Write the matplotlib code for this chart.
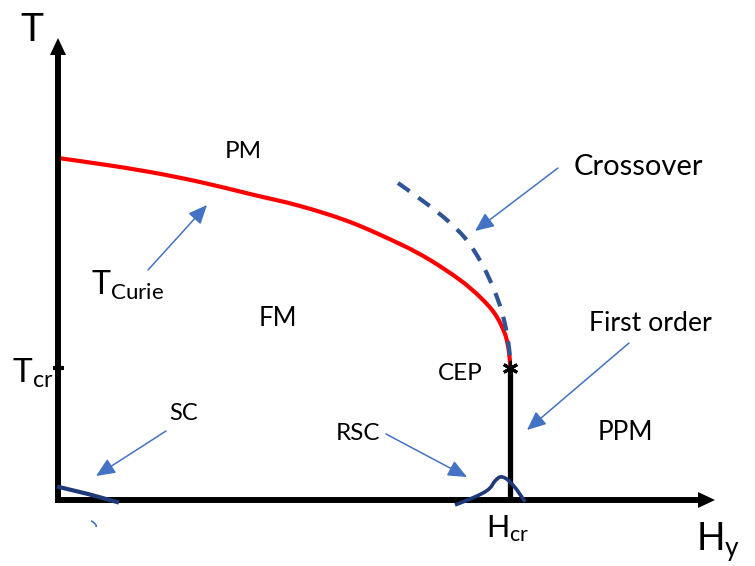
import matplotlib
matplotlib.use("Agg")
import matplotlib.pyplot as plt
import numpy as np
from matplotlib.patches import FancyArrowPatch, PathPatch
from matplotlib.path import Path

plt.rcParams['font.family'] = ['Lato', 'DejaVu Sans']
plt.rcParams['mathtext.default'] = 'regular'

# ---- data (H in arbitrary units from origin, T in arbitrary units) ----
curie_h = [0, 42, 92, 142, 192, 242, 292, 342, 372, 402, 422, 437, 447, 451, 452]
curie_t = [342, 336, 328, 318, 306, 294, 278, 256, 240, 220, 203, 186, 166, 148, 135]

cross_h = [340, 369, 390, 407, 420, 431, 440, 446, 450, 452]
cross_t = [317, 296, 279, 262, 243, 222, 200, 180, 160, 142]

h_cr = 452
t_cr = 132

sc_h = [1, 30, 59]
sc_t = [13, 6, -2]

rsc_h = [397, 412, 425, 432, 437, 442, 447, 452, 459, 467]
rsc_t = [-5, 1, 7, 12, 19, 23, 22, 18, 10, -2]

blip_h = [33, 35, 38, 38]
blip_t = [-21, -22, -25, -27]

h_axis_end = 657
t_axis_end = 462

# annotation arrows: (tail_h, tail_t, tip_h, tip_t)
arrows = [
    (90, 230, 149, 295),    # T_Curie
    (500, 332, 417, 269),   # Crossover
    (571, 157, 469, 70),    # First order
    (108, 69, 38, 24),      # SC
    (328, 66, 409, 23),     # RSC
]

RED = '#FF0000'
DASH = '#2F5597'
NAVY = '#1F3A78'
BLUE = '#4472C4'


def smooth_path(xs, ys):
    """Smooth Bezier path through the given points (Catmull-Rom control points)."""
    p = np.column_stack([xs, ys]).astype(float)
    n = len(p)
    verts = [p[0]]
    codes = [Path.MOVETO]
    for i in range(n - 1):
        p0 = p[i - 1] if i > 0 else p[i]
        p1 = p[i]
        p2 = p[i + 1]
        p3 = p[i + 2] if i + 2 < n else p[i + 1]
        c1 = p1 + (p2 - p0) / 6.0
        c2 = p2 - (p3 - p1) / 6.0
        verts += [c1, c2, p2]
        codes += [Path.CURVE4] * 3
    return Path(verts, codes)


fig = plt.figure(figsize=(7.55, 5.66), dpi=100)
ax = fig.add_axes([0, 0, 1, 1])
ax.set_xlim(-58, 697)
ax.set_ylim(-66, 500)
ax.axis('off')

# axes lines
ax.plot([0, h_axis_end - 14], [0, 0], color='black', lw=4.3, solid_capstyle='butt', zorder=3)
ax.plot([0, 0], [-3, t_axis_end - 14], color='black', lw=4.3, solid_capstyle='butt', zorder=3)
for (x0, y0, x1, y1) in [(h_axis_end - 20, 0, h_axis_end, 0), (0, t_axis_end - 20, 0, t_axis_end)]:
    ax.add_patch(FancyArrowPatch((x0, y0), (x1, y1), arrowstyle='-|>,head_length=17,head_width=8',
                                 mutation_scale=0.72, lw=0, color='black', shrinkA=0, shrinkB=0, zorder=4))

# Tcr tick
ax.plot([-5, 6], [t_cr, t_cr], color='black', lw=3, solid_capstyle='butt', zorder=3)

# curves
ax.add_patch(PathPatch(smooth_path(curie_h, curie_t), fill=False, edgecolor=RED, lw=3,
                       capstyle='butt', zorder=2))
ax.add_patch(PathPatch(smooth_path(cross_h, cross_t), fill=False, edgecolor=DASH, lw=3,
                       linestyle=(0, (3.4, 2.6)), capstyle='butt', zorder=2))
ax.plot([h_cr, h_cr], [0, t_cr], color='black', lw=3.8, solid_capstyle='butt', zorder=3)
ax.plot([h_cr], [t_cr], marker=(6, 2, 0), ms=11, mew=2.2, color='black', zorder=5)

ax.plot(sc_h, sc_t, color=NAVY, lw=3, zorder=4)
ax.add_patch(PathPatch(smooth_path(rsc_h, rsc_t), fill=False, edgecolor=NAVY, lw=2.6, zorder=4))
ax.add_patch(PathPatch(smooth_path(blip_h, blip_t), fill=False, edgecolor=BLUE, lw=1.2, zorder=4))

for (x0, y0, x1, y1) in arrows:
    ax.add_patch(FancyArrowPatch((x0, y0), (x1, y1), arrowstyle='-|>,head_length=16,head_width=7',
                                 mutation_scale=0.72, lw=1.1, color=BLUE, shrinkA=0, shrinkB=0, zorder=4))


# labels
def lab(x, y, s, size, ha='center'):
    ax.text(x, y, s, fontsize=size, ha=ha, va='baseline', color='black', zorder=6)


lab(185, 341.5, 'PM', 17.5)
lab(220, 174.5, 'FM', 18.5)
lab(402, 119.5, 'CEP', 17.5)
lab(567, 59.5, 'PPM', 18.8)
lab(126, 80.5, 'SC', 17)
lab(300, 59.5, 'RSC', 17.5)
lab(580, 325, 'Crossover', 21)
lab(592, 169, 'First order', 19.2)

lab(-26, 459, 'T', 28)
lab(33, 205, r'T$_{Curie}$', 23, ha='left')
lab(-46, 117, r'T$_{cr}$', 24, ha='left')
lab(428, -37, r'H$_{cr}$', 22, ha='left')
lab(638, -51, r'H$_{y}$', 27, ha='left')

fig.savefig('out.png', dpi=100)
